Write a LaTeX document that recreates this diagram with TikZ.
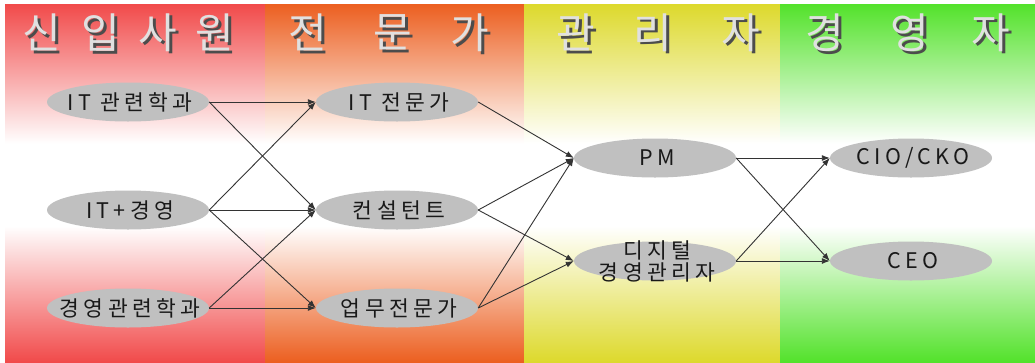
\documentclass[tikz,border=0pt]{standalone}
\usepackage{fontspec}
\newfontfamily\kr[LetterSpace=20]{Noto Sans CJK KR}
\newfontfamily\krt{Noto Sans CJK KR}
\usetikzlibrary{shapes.geometric,arrows.meta}
\definecolor{cR}{HTML}{F14A4A}
\definecolor{cO}{HTML}{EC5F20}
\definecolor{cY}{HTML}{DDD92C}
\definecolor{cG}{HTML}{53E22B}
\definecolor{pillgray}{HTML}{C0C0C0}
\definecolor{edgegray}{HTML}{333333}
\definecolor{shadowgray}{HTML}{4C4C4C}
\pgfdeclareverticalshading{shR}{100bp}{color(0bp)=(cR); color(25bp)=(cR); color(44bp)=(white); color(55.5bp)=(white); color(75bp)=(cR); color(100bp)=(cR)}
\pgfdeclareverticalshading{shO}{100bp}{color(0bp)=(cO); color(25bp)=(cO); color(44bp)=(white); color(55.5bp)=(white); color(75bp)=(cO); color(100bp)=(cO)}
\pgfdeclareverticalshading{shY}{100bp}{color(0bp)=(cY); color(25bp)=(cY); color(44bp)=(white); color(55.5bp)=(white); color(75bp)=(cY); color(100bp)=(cY)}
\pgfdeclareverticalshading{shG}{100bp}{color(0bp)=(cG); color(25bp)=(cG); color(44bp)=(white); color(55.5bp)=(white); color(75bp)=(cG); color(100bp)=(cG)}
\newcommand{\shadowed}[1]{\makebox[0pt][l]{\hspace{2.5pt}\raisebox{-2.5pt}{\textcolor{shadowgray}{#1}}}#1}
\tikzset{
  pill/.style={ellipse, fill=pillgray, minimum width=162pt, minimum height=39pt, inner sep=0pt},
  lbl/.style={text=black!90, font=\kr\fontsize{21.5}{22}\selectfont, align=center, inner sep=0pt, xshift=2pt},
  title/.style={text=black!12, font=\krt\fontsize{42}{44}\selectfont, inner sep=0pt},
  link/.style={draw=edgegray, line width=0.9pt, -{Latex[length=8pt,width=6pt]}}
}
\begin{document}
\begin{tikzpicture}[x=1pt, y=-1pt]
\useasboundingbox (0,0) rectangle (1035,362);
% backgrounds
\shade[shading=shR] (5,4) rectangle (265,362);
\shade[shading=shO] (265,4) rectangle (524,362);
\shade[shading=shY] (524,4) rectangle (780,362);
\shade[shading=shG] (780,4) rectangle (1035,362);
% titles
\foreach \ch/\x [count=\i] in {신/42,입/101,사/158,원/215,전/308,문/393,가/470,관/576,리/653,자/741,경/825,영/910,자/991}{
  \node[title] (t\i) at (\x,34) {\shadowed{\ch}};
}
% nodes
\node[pill, label={[lbl]center:IT 관련학과}] (a1) at (128,102) {};
\node[pill, label={[lbl]center:IT+경영}] (a2) at (128,210) {};
\node[pill, label={[lbl]center:경영관련학과}] (a3) at (128,308) {};
\node[pill, label={[lbl]center:IT 전문가}] (b1) at (397,102) {};
\node[pill, label={[lbl]center:컨설턴트}] (b2) at (397,210) {};
\node[pill, label={[lbl]center:업무전문가}] (b3) at (397,308) {};
\node[pill, label={[lbl]center:PM}] (c1) at (655,158) {};
\node[pill, label={[lbl]center:디지털\\경영관리자}] (c2) at (655,261) {};
\node[pill, label={[lbl]center:CIO/CKO}] (d1) at (911,158) {};
\node[pill, label={[lbl]center:CEO}] (d2) at (911,261) {};
% connectors
\draw[link] (a1.east) -- (b1.west);
\draw[link] (a1.east) -- (b2.west);
\draw[link] (a2.east) -- (b1.west);
\draw[link] (a2.east) -- (b2.west);
\draw[link] (a2.east) -- (b3.west);
\draw[link] (a3.east) -- (b2.west);
\draw[link] (a3.east) -- (b3.west);
\draw[link] (b1.east) -- (c1.west);
\draw[link] (b2.east) -- (c1.west);
\draw[link] (b2.east) -- (c2.west);
\draw[link] (b3.east) -- (c1.west);
\draw[link] (b3.east) -- (c2.west);
\draw[link] (c1.east) -- (d1.west);
\draw[link] (c1.east) -- (d2.west);
\draw[link] (c2.east) -- (d1.west);
\draw[link] (c2.east) -- (d2.west);
\end{tikzpicture}
\end{document}
